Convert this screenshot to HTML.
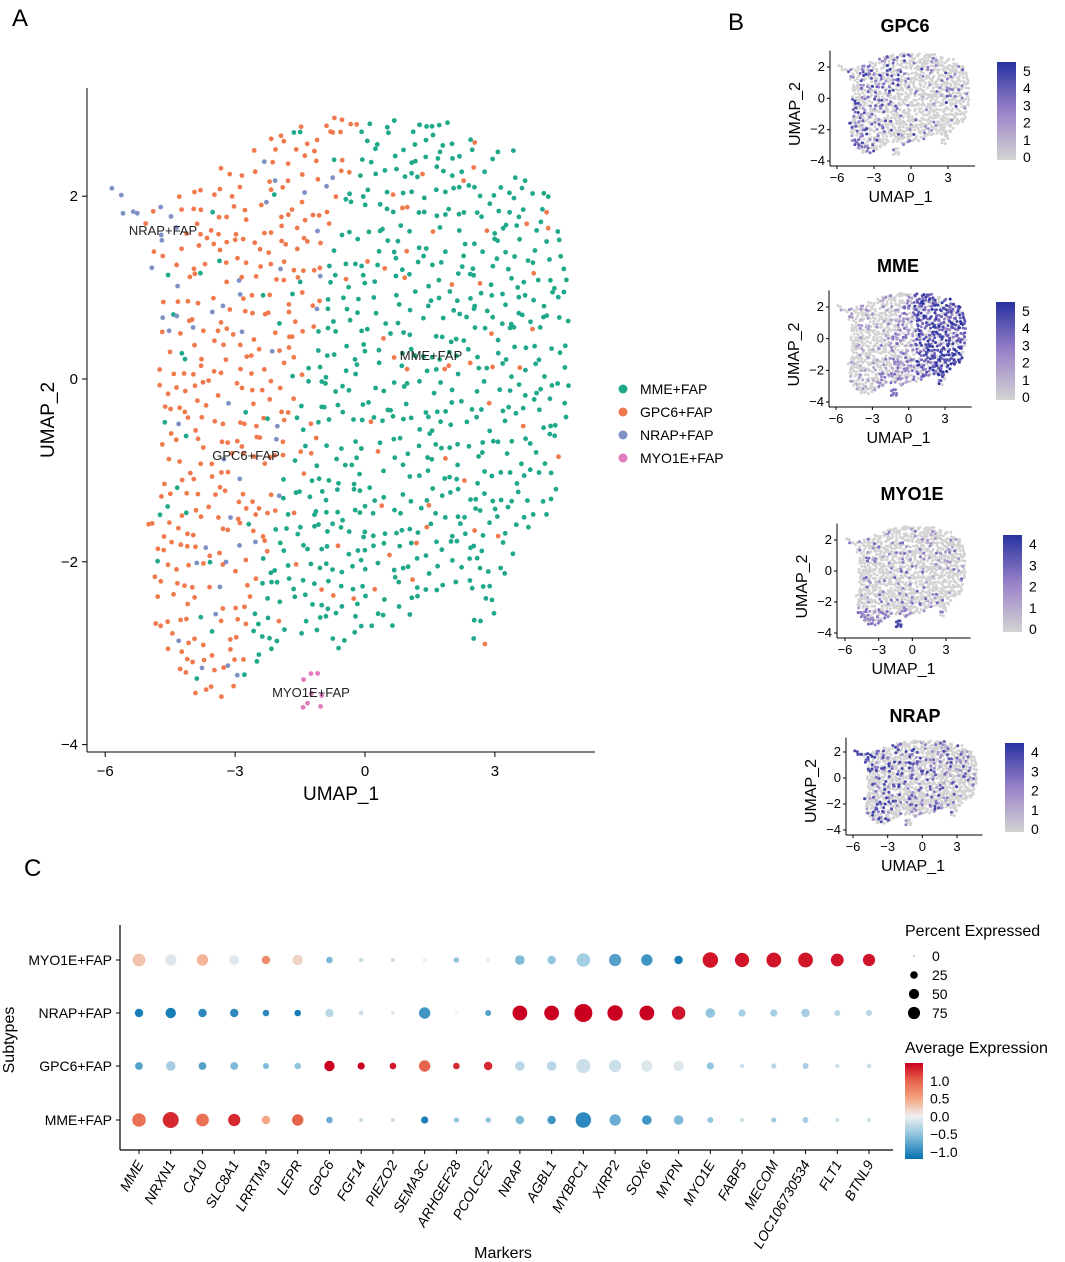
<!DOCTYPE html>
<html><head><meta charset="utf-8"><style>
body{margin:0;background:#fff;}
svg{display:block;font-family:"Liberation Sans",Arial,sans-serif;}
</style></head><body>
<svg id="fig" width="1065" height="1262" viewBox="0 0 1065 1262" xmlns="http://www.w3.org/2000/svg">
<text x="12" y="26" font-size="24">A</text>
<text x="728" y="30" font-size="24">B</text>
<text x="24" y="876" font-size="24">C</text>
<g id="pa"></g>
<g id="pb"></g>
<g id="pc"></g>
</svg>
<script>
// ---------- Data ----------
const clusterNames = ["MME+FAP","GPC6+FAP","NRAP+FAP","MYO1E+FAP"];
const clusterColors = ["#1fa98a","#f07a4e","#7f90c4","#e27bbd"];
const umapOutlineX = [-6.0,-5.0,-4.5,-3,-2,0,2,3.5,4.3,4.7,4.7,4.3,3.5,3.0,2.9,2.5,2.3,1.2,0,-0.5,-1.5,-2.2,-2.6,-3.2,-3.6,-4.5,-5.0,-5.0,-4.7,-4.8,-5.0,-5.5,-6.0];
const umapOutlineY = [2.4,2.1,2.0,2.4,2.8,2.9,2.8,2.5,2.0,1.0,-0.5,-1.5,-2.0,-2.5,-3.0,-2.9,-2.2,-2.6,-2.9,-3.0,-2.8,-3.0,-3.2,-3.5,-3.6,-3.2,-2.5,-1.5,-0.5,0.5,1.5,1.7,2.1];
const xTicks = [-6,-3,0,3];
const yTicks = [-4,-2,0,2];

const genes = ["MME","NRXN1","CA10","SLC8A1","LRRTM3","LEPR","GPC6","FGF14","PIEZO2","SEMA3C","ARHGEF28","PCOLCE2","NRAP","AGBL1","MYBPC1","XIRP2","SOX6","MYPN","MYO1E","FABP5","MECOM","LOC106730534","FLT1","BTNL9"];
const subtypes = ["MYO1E+FAP","NRAP+FAP","GPC6+FAP","MME+FAP"];
const pctMYO1E = [40,30,30,20,15,25,8,3,2,3,5,2,20,15,45,35,30,15,60,50,55,55,40,35];
const expMYO1E = [0.3,-0.1,0.4,-0.1,0.7,0.2,-0.6,-0.2,-0.2,0,-0.5,0,-0.6,-0.5,-0.4,-0.8,-0.9,-1.1,1.4,1.4,1.4,1.4,1.4,1.4];
const pctNRAP = [15,25,15,15,8,8,15,3,2,30,1,6,55,55,85,60,55,45,20,10,10,15,6,6];
const expNRAP = [-1.1,-1.1,-1,-1,-1,-1.1,-0.3,-0.2,-0.1,-0.9,0,-0.8,1.5,1.5,1.5,1.5,1.5,1.4,-0.5,-0.4,-0.4,-0.4,-0.3,-0.3];
const pctGPC6 = [12,20,12,12,6,8,25,10,8,30,8,15,20,20,50,35,30,25,10,2,4,6,2,3];
const expGPC6 = [-0.8,-0.4,-0.8,-0.6,-0.6,-0.5,1.5,1.5,1.4,1.0,1.3,1.3,-0.3,-0.3,-0.2,-0.2,-0.1,-0.1,-0.5,-0.2,-0.3,-0.4,-0.2,-0.2];
const pctMME = [45,65,40,35,15,30,8,2,2,10,4,5,15,15,60,30,20,20,6,2,4,6,2,2];
const expMME = [0.9,1.3,0.9,1.3,0.5,1.0,-0.7,-0.2,-0.2,-1.1,-0.5,-0.5,-0.6,-0.9,-1.0,-0.7,-0.9,-0.6,-0.5,-0.2,-0.4,-0.4,-0.2,-0.2];
const sizeLegend = [0,25,50,75];
const colorLegend = [1.0,0.5,0.0,-0.5,-1.0];

const featureGenes = ["GPC6","MME","MYO1E","NRAP"];
const featureMax = [5,5,4,4];

// ---------- helpers ----------
const NS="http://www.w3.org/2000/svg";
function mk(tag,attrs,parent,txt){const e=document.createElementNS(NS,tag);for(const k in attrs)e.setAttribute(k,attrs[k]);if(txt!==undefined)e.textContent=txt;parent.appendChild(e);return e;}
function hash(a,b,c){let h=(a*374761393+b*668265263+c*2147483647)|0;h=(h^(h>>>13))*1274126177|0;h=h^(h>>>16);return ((h>>>0)%100000)/100000;}
function inPoly(x,y){let c=false;const n=umapOutlineX.length;for(let i=0,j=n-1;i<n;j=i++){const xi=umapOutlineX[i],yi=umapOutlineY[i],xj=umapOutlineX[j],yj=umapOutlineY[j];if(((yi>y)!=(yj>y))&&(x<(xj-xi)*(y-yi)/(yj-yi)+xi))c=!c;}return c;}

const pts=[];
for(let i=0;i<60;i++)for(let j=0;j<36;j++){
  const x=-6+i*0.19+(hash(i,j,1)-0.5)*0.17, y=-3.8+j*0.195+(hash(i,j,2)-0.5)*0.17;
  if(hash(i,j,3)<0.2)continue;
  let inside=inPoly(x,y);
  let cl=-1;
  const pink=Math.hypot((x+1.25)/0.4,(y+3.45)/0.3)<1;
  const gsmall=Math.hypot((x+2.1)/0.3,(y+3.0)/0.15)<1;
  if(pink){cl=3;} else if(gsmall){cl=0;} else if(inside){
    const b=-1.4+0.45*y; const r=hash(i,j,4);
    if(x<-4.3&&y>1.4)cl=(r<0.8)?2:1;
    else if(x<b){cl=(r<0.1)?2:(r<0.18?0:1);}
    else cl=(r<0.1)?1:0;
  }
  if(cl<0)continue;
  pts.push({x,y,cl,r:hash(i,j,5)});
}

// ---------- Panel A ----------
(function(){
const g=document.getElementById('pa');
const X=v=>365+v*43.3, Y=v=>379-v*91.4;
mk('line',{x1:87,y1:88,x2:87,y2:752,stroke:'#000','stroke-width':1},g);
mk('line',{x1:87,y1:752,x2:595,y2:752,stroke:'#000','stroke-width':1},g);
xTicks.forEach(t=>{mk('line',{x1:X(t),y1:752,x2:X(t),y2:757,stroke:'#000'},g);
 const tx=mk('text',{x:X(t),y:776,'font-size':15,'text-anchor':'middle'},g,t<0?'\u2212'+(-t):t);});
yTicks.forEach(t=>{mk('line',{x1:82,y1:Y(t),x2:87,y2:Y(t),stroke:'#000'},g);
 const tx=mk('text',{x:78,y:Y(t)+5,'font-size':15,'text-anchor':'end'},g,t<0?'\u2212'+(-t):t);});
const xt=mk('text',{x:341,y:800,'font-size':19,'text-anchor':'middle'},g,'UMAP_1');
const yt=mk('text',{x:54,y:420,'font-size':19,'text-anchor':'middle',transform:'rotate(-90 54 420)'},g,'UMAP_2');
pts.forEach(p=>{const c=mk('circle',{cx:X(p.x).toFixed(1),cy:Y(p.y).toFixed(1),r:2.4,fill:clusterColors[p.cl]},g);});
[["NRAP+FAP",163,235],["MME+FAP",431,360],["GPC6+FAP",246,460],["MYO1E+FAP",311,697]].forEach(l=>{const t=mk('text',{x:l[1],y:l[2],'font-size':13,'text-anchor':'middle',fill:'#222'},g,l[0]);});
clusterNames.forEach((n,i)=>{const y=389+i*23;
 const c=mk('circle',{cx:623,cy:y,r:4.5,fill:clusterColors[i]},g);
 const t=mk('text',{x:640,y:y+5,'font-size':14},g,n);});
})();

// ---------- Panel B ----------
(function(){
const g=document.getElementById('pb');
const boxes=[
 {title:905,ty:32,x0:837,x3:948,y2:67,y4:161,axL:830,axB:166,cbx:997,cby:62,cbh:98},
 {title:898,ty:272,x0:836,x3:945,y2:307,y4:402,axL:829,axB:407,cbx:996,cby:302,cbh:98},
 {title:912,ty:500,x0:845,x3:946,y2:540,y4:633,axL:837,axB:638,cbx:1003,cby:535,cbh:97},
 {title:915,ty:722,x0:853,x3:957,y2:752,y4:830,axL:846,axB:835,cbx:1005,cby:743,cbh:89}];
function expr(gi,p){let v=0;const r=p.r;
 if(gi===0){v=p.cl===1?(r<0.45?1.5+r*7:0):(r<0.06?2+r*20:0);}
 if(gi===1){v=p.cl===0?(p.x>0.5?(r<0.85?2.5+r*3:0):(r<0.6?1+r*4:0)):(r<0.15?1+r*8:0);if(p.cl===3)v=3;}
 if(gi===2){v=p.cl===3?3.5:(p.y<-2.5&&r<0.5?1.5+r*2:(r<0.12?1+r*15:0));}
 if(gi===3){v=p.cl===2?3.5:(r<0.22?1+r*12:0);}
 return Math.min(v,featureMax[gi]);}
function col(t){t=Math.max(0,Math.min(1,t));const a=[211,211,211],b=[154,130,200],c=[40,50,160];let u,s,e;if(t<0.5){u=t/0.5;s=a;e=b;}else{u=(t-0.5)/0.5;s=b;e=c;}return `rgb(${s.map((v,k)=>Math.round(v+(e[k]-v)*u)).join(',')})`;}
boxes.forEach((b,gi)=>{
 const sx=(b.x3-b.x0)/9, sy=(b.y4-b.y2)/6;
 const X=v=>b.x0+(v+6)*sx, Y=v=>b.y2-(v-2)*sy;
 const tt=mk('text',{x:b.title,y:b.ty,'font-size':18,'font-weight':'bold','text-anchor':'middle'},g,featureGenes[gi]);
 mk('line',{x1:b.axL,y1:Y(2.8)-4,x2:b.axL,y2:b.axB,stroke:'#000'},g);
 mk('line',{x1:b.axL,y1:b.axB,x2:X(5.2),y2:b.axB,stroke:'#000'},g);
 const sorted=pts.map(p=>({p,v:expr(gi,p)})).sort((a,c)=>a.v-c.v);
 sorted.forEach(o=>{const c=mk('circle',{cx:X(o.p.x).toFixed(1),cy:Y(o.p.y).toFixed(1),r:1.5,fill:col(o.v/featureMax[gi])},g);});
 xTicks.forEach(t=>{mk('line',{x1:X(t),y1:b.axB,x2:X(t),y2:b.axB+3,stroke:'#000'},g);const tx=mk('text',{x:X(t),y:b.axB+16,'font-size':13,'text-anchor':'middle'},g,t<0?'\u2212'+(-t):t);});
 yTicks.forEach(t=>{mk('line',{x1:b.axL-3,y1:Y(t),x2:b.axL,y2:Y(t),stroke:'#000'},g);const tx=mk('text',{x:b.axL-5,y:Y(t)+4,'font-size':13,'text-anchor':'end'},g,t<0?'\u2212'+(-t):t);});
 const xl=mk('text',{x:(b.x0+b.x3)/2+8,y:b.axB+36,'font-size':16,'text-anchor':'middle'},g,'UMAP_1');
 const ycx=b.axL-30, ycy=(b.y2+b.y4)/2;
 const yl=mk('text',{x:ycx,y:ycy,'font-size':16,'text-anchor':'middle',transform:`rotate(-90 ${ycx} ${ycy})`},g,'UMAP_2');
 const gid='fg'+gi;const d=mk('linearGradient',{id:gid,x1:0,y1:1,x2:0,y2:0},g);
 [0,0.5,1].forEach(o=>mk('stop',{offset:o,'stop-color':col(o)},d));
 const cb=mk('rect',{x:b.cbx,y:b.cby,width:19,height:b.cbh,fill:`url(#${gid})`},g);
 for(let v=0;v<=featureMax[gi];v++){const yy=b.cby+b.cbh-3-v*(b.cbh-12)/featureMax[gi];
  const tx=mk('text',{x:b.cbx+26,y:yy+5,'font-size':14},g,v);}
});
})();

// ---------- Panel C ----------
(function(){
const g=document.getElementById('pc');
const X=i=>139+i*31.74;
const rowY=[960,1013,1066,1120];
const pcts=[pctMYO1E,pctNRAP,pctGPC6,pctMME], exps=[expMYO1E,expNRAP,expGPC6,expMME];
const R=p=>0.8+Math.sqrt(p/85)*8.2;
const stops=[[-1.2,[5,113,176]],[-0.5,[146,197,222]],[0,[240,240,240]],[0.5,[244,165,130]],[1.0,[230,100,75]],[1.5,[202,0,32]]];
function col(v){v=Math.max(-1.2,Math.min(1.5,v));for(let k=0;k<stops.length-1;k++){const[a,ca]=stops[k],[b,cb]=stops[k+1];if(v<=b){const u=(v-a)/(b-a);return `rgb(${ca.map((c,m)=>Math.round(c+(cb[m]-c)*u)).join(',')})`;}}return 'rgb(202,0,32)';}
mk('line',{x1:120,y1:925,x2:120,y2:1150,stroke:'#000','stroke-width':1.2},g);
mk('line',{x1:120,y1:1150,x2:893,y2:1150,stroke:'#000','stroke-width':1.2},g);
subtypes.forEach((s,r)=>{mk('line',{x1:116,y1:rowY[r],x2:120,y2:rowY[r],stroke:'#000'},g);
 const t=mk('text',{x:112,y:rowY[r]+5,'font-size':14,'text-anchor':'end'},g,s);
 genes.forEach((gn,i)=>{const c=mk('circle',{cx:X(i),cy:rowY[r],r:R(pcts[r][i]).toFixed(1),fill:col(exps[r][i])},g);});
});
genes.forEach((gn,i)=>{mk('line',{x1:X(i),y1:1150,x2:X(i),y2:1154,stroke:'#000'},g);
 const t=mk('text',{x:X(i)+5,y:1164,'font-size':14,'font-style':'italic','text-anchor':'end',transform:`rotate(-60 ${X(i)+5} 1164)`},g,gn);});
const xt=mk('text',{x:503,y:1258,'font-size':16,'text-anchor':'middle'},g,'Markers');
const yt=mk('text',{x:14,y:1040,'font-size':16,'text-anchor':'middle',transform:'rotate(-90 14 1040)'},g,'Subtypes');
const lt=mk('text',{x:905,y:936,'font-size':16},g,'Percent Expressed');
sizeLegend.forEach((p,i)=>{const y=956+i*19;const c=mk('circle',{cx:914,cy:y,r:(0.5+Math.sqrt(p/85)*6).toFixed(1),fill:'#000'},g);
 const t=mk('text',{x:932,y:y+5,'font-size':14},g,p);});
const ct=mk('text',{x:905,y:1053,'font-size':16},g,'Average Expression');
const gr=mk('linearGradient',{id:'dg',x1:0,y1:1,x2:0,y2:0},g);
stops.forEach(s=>mk('stop',{offset:((s[0]+1.2)/2.7).toFixed(3),'stop-color':`rgb(${s[1].join(',')})`},gr));
const cb=mk('rect',{x:905,y:1063,width:18,height:96,fill:'url(#dg)'},g);
colorLegend.forEach(v=>{const y=1159-(v+1.2)/2.7*96;const t=mk('text',{x:930,y:y+5,'font-size':14},g,v<0?'\u2212'+(-v).toFixed(1):v.toFixed(1));});
})();
</script>
</body></html>
